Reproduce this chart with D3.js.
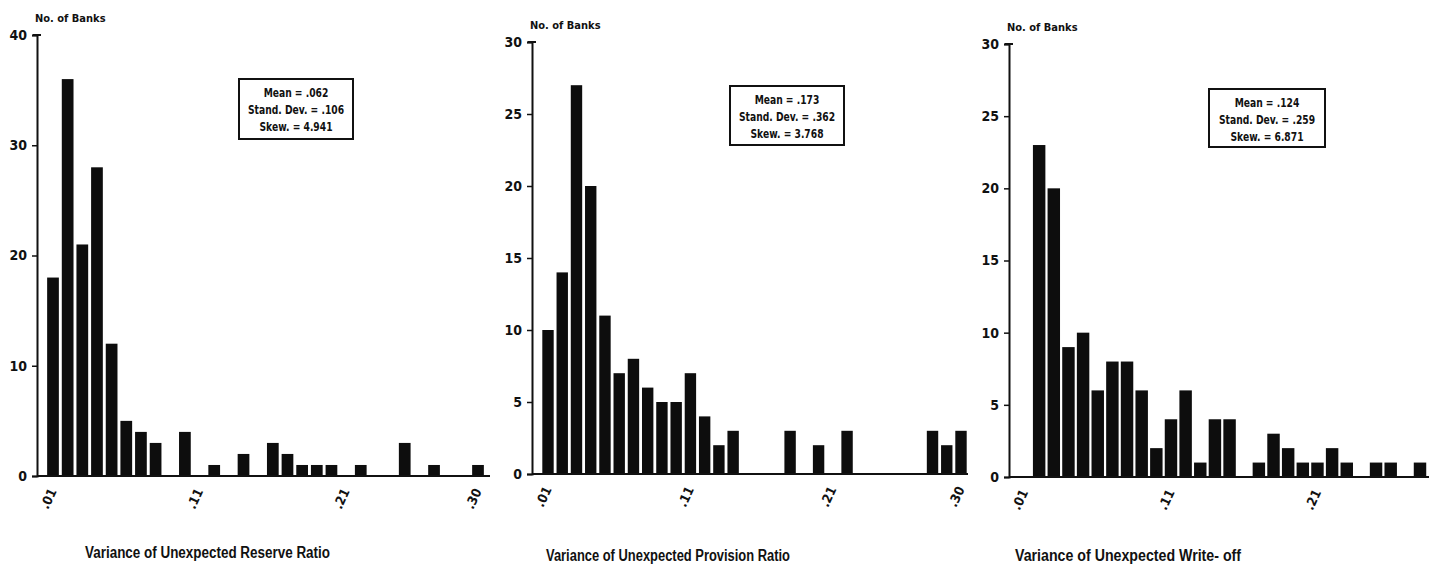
<!DOCTYPE html>
<html>
<head>
<meta charset="utf-8">
<script src="https://cdn.jsdelivr.net/npm/d3@7"></script>
<style>
  body { margin: 0; background: #fff; }
  svg { display: block; }
  .tick text { font-family: "Liberation Sans Narrow", "DejaVu Sans Condensed", sans-serif; font-weight: bold; }
</style>
</head>
<body>
<svg id="chart" width="1429" height="568"></svg>
<script>
// bins (upper edge of each class)
const bins30 = [.01, .02, .03, .04, .05, .06, .07, .08, .09, .10,
                .11, .12, .13, .14, .15, .16, .17, .18, .19, .20,
                .21, .22, .23, .24, .25, .26, .27, .28, .29, .30];
const bins28 = bins30.slice(0, 28);

const reserveCounts   = [18, 36, 21, 28, 12, 5, 4, 3, 0, 4, 0, 1, 0, 2, 0, 3, 2, 1, 1, 1, 0, 1, 0, 0, 3, 0, 1, 0, 0, 1];
const provisionCounts = [10, 14, 27, 20, 11, 7, 8, 6, 5, 5, 7, 4, 2, 3, 0, 0, 0, 3, 0, 2, 0, 3, 0, 0, 0, 0, 0, 3, 2, 3];
const writeoffCounts  = [0, 23, 20, 9, 10, 6, 8, 8, 6, 2, 4, 6, 1, 4, 4, 0, 1, 3, 2, 1, 1, 2, 1, 0, 1, 1, 0, 1];

const xTicks3 = [.01, .11, .21, .30];
const xTickLabels3 = [".01", ".11", ".21", ".30"];
const xTicks2 = [.01, .11, .21];
const xTickLabels2 = [".01", ".11", ".21"];

const yTicks40 = [0, 10, 20, 30, 40];
const yTicks30 = [0, 5, 10, 15, 20, 25, 30];

const statsReserve   = ["Mean = .062", "Stand. Dev. = .106", "Skew. = 4.941"];
const statsProvision = ["Mean = .173", "Stand. Dev. = .362", "Skew. = 3.768"];
const statsWriteoff  = ["Mean = .124", "Stand. Dev. = .259", "Skew. = 6.871"];

const titles = ["Variance of Unexpected Reserve Ratio",
                "Variance of Unexpected Provision Ratio",
                "Variance of Unexpected Write- off"];

const svg = d3.select("#chart");
const narrow = '"Liberation Sans Narrow", "DejaVu Sans Condensed", sans-serif';

function drawPanel(p) {
    const g = svg.append("g");

    const step = (p.cLast - p.cFirst) / (p.bins.length - 1);
    const x = d3.scaleBand()
        .domain(p.bins)
        .range([p.cFirst - step / 2, p.cLast + step / 2])
        .paddingInner(p.pad)
        .paddingOuter(p.pad / 2);

    const y = d3.scaleLinear()
        .domain([0, p.yMax])
        .range([p.base, p.top]);

    // bars
    g.selectAll(".bar")
        .data(p.bins.map((b, i) => ({bin: b, n: p.counts[i]})).filter(d => d.n > 0))
        .join("rect")
        .attr("class", "bar")
        .attr("x", d => x(d.bin))
        .attr("width", x.bandwidth())
        .attr("y", d => y(d.n))
        .attr("height", d => y(0) - y(d.n))
        .attr("fill", "#0d0d0d");

    // baseline
    g.append("line")
        .attr("x1", p.axisX).attr("x2", p.xEnd)
        .attr("y1", y(0)).attr("y2", y(0))
        .attr("stroke", "#111").attr("stroke-width", 2);

    // y axis
    const ya = g.append("g")
        .attr("transform", `translate(${p.axisX},0)`)
        .call(d3.axisLeft(y).tickValues(p.yTicks).tickSize(5).tickPadding(5).tickFormat(d3.format("d")));
    ya.select(".domain").attr("stroke-width", 2).attr("stroke", "#111");
    ya.selectAll("line").attr("stroke-width", 1.5).attr("stroke", "#111");
    ya.selectAll("text").style("font-size", "14px").attr("fill", "#111");
    // cap at top of axis
    g.append("line")
        .attr("x1", p.axisX - 4).attr("x2", p.axisX + 4)
        .attr("y1", y(p.yMax)).attr("y2", y(p.yMax))
        .attr("stroke", "#111").attr("stroke-width", 2);

    // x tick labels (rotated)
    const xa = g.append("g")
        .attr("transform", `translate(0,${y(0)})`)
        .call(d3.axisBottom(x).tickValues(p.xTicks).tickSize(0)
            .tickFormat((d, i) => p.xLabels[i]));
    xa.select(".domain").remove();
    xa.selectAll("text")
        .style("font-size", "13px")
        .attr("fill", "#111")
        .attr("text-anchor", "end")
        .attr("dy", "0.35em")
        .attr("transform", "translate(-3,12) rotate(-65)");

    // y axis caption
    g.append("text")
        .attr("x", p.axisX - 2)
        .attr("y", p.top - 13)
        .attr("font-family", narrow)
        .attr("font-weight", "bold")
        .attr("font-size", "11px")
        .attr("fill", "#111")
        .text("No. of Banks");

    // stats box
    const box = g.append("g").attr("transform", `translate(${p.box[0]},${p.box[1]})`);
    box.append("rect")
        .attr("width", p.box[2]).attr("height", p.box[3])
        .attr("fill", "#fff").attr("stroke", "#111").attr("stroke-width", 2);
    box.append("g")
        .attr("transform", `translate(${p.box[2] / 2},0) scale(0.85,1)`)
        .append("text")
        .attr("font-family", narrow)
        .attr("font-weight", "bold")
        .attr("font-size", "12px")
        .attr("fill", "#111")
        .attr("text-anchor", "middle")
        .selectAll("tspan")
        .data(p.stats)
        .join("tspan")
        .attr("x", 0)
        .attr("y", (d, i) => 18 + i * 17)
        .text(d => d);

    // title
    g.append("text")
        .attr("x", p.title[0])
        .attr("y", p.title[1])
        .attr("font-family", '"Liberation Sans", Arial, sans-serif')
        .attr("font-weight", "bold")
        .attr("font-size", "16px")
        .attr("fill", "#111")
        .attr("textLength", p.title[2])
        .attr("lengthAdjust", "spacingAndGlyphs")
        .text(p.titleText);
}

drawPanel({
    bins: bins30, counts: reserveCounts, pad: 0.2,
    cFirst: 53, cLast: 478, axisX: 37, xEnd: 490,
    yMax: 40, yTicks: yTicks40, base: 476, top: 35,
    xTicks: xTicks3, xLabels: xTickLabels3,
    stats: statsReserve, box: [239, 79, 114, 60],
    title: [85, 558, 245], titleText: titles[0]
});

drawPanel({
    bins: bins30, counts: provisionCounts, pad: 0.2,
    cFirst: 548, cLast: 961, axisX: 532, xEnd: 968,
    yMax: 30, yTicks: yTicks30, base: 474, top: 42,
    xTicks: xTicks3, xLabels: xTickLabels3,
    stats: statsProvision, box: [730, 86, 114, 59],
    title: [546, 561, 244], titleText: titles[1]
});

drawPanel({
    bins: bins28, counts: writeoffCounts, pad: 0.15,
    cFirst: 1024.5, cLast: 1420, axisX: 1009, xEnd: 1429,
    yMax: 30, yTicks: yTicks30, base: 477, top: 44,
    xTicks: xTicks2, xLabels: xTickLabels2,
    stats: statsWriteoff, box: [1209, 89, 116, 58],
    title: [1015, 561, 226], titleText: titles[2]
});
</script>
</body>
</html>
